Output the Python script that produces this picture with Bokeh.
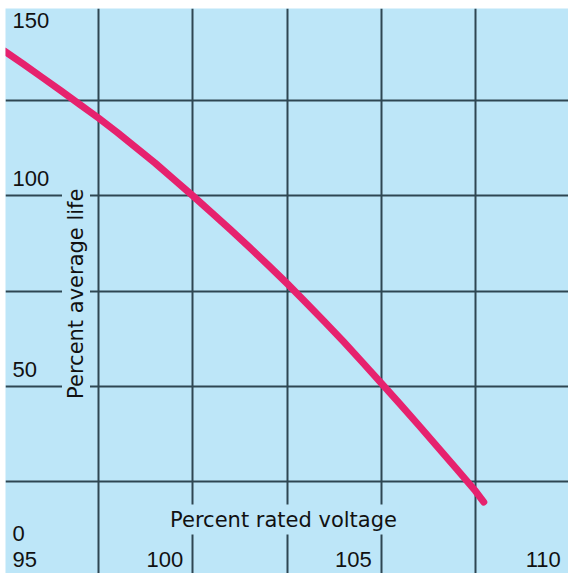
from bokeh.plotting import figure
from bokeh.models import Range1d, FixedTicker, Label
from bokeh.core.properties import value
from bokeh.embed import file_html
from bokeh.resources import INLINE
import math

# ---- data ----
voltage = [95.0, 95.5, 96.0, 96.5, 97.0, 97.5, 98.0, 98.5, 99.0, 99.5, 100.0,
           100.5, 101.0, 101.5, 102.0, 102.5, 103.0, 103.5, 104.0, 104.5, 105.0,
           105.5, 106.0, 106.5, 107.0, 107.5, 107.72]
life = [138.0, 134.6, 131.1, 127.6, 124.0, 120.4, 116.6, 112.6, 108.6, 104.3, 100.0,
        95.6, 91.1, 86.5, 81.8, 77.0, 72.0, 66.9, 61.7, 56.3, 50.8,
        45.3, 39.7, 34.0, 28.3, 22.5, 19.6]

x_ticks = [95, 100, 105, 110]
y_ticks = [0, 50, 100, 150]
x_grid = [97.5, 100, 102.5, 105, 107.5]
y_grid = [25, 50, 75, 100, 125]
x_title = "Percent rated voltage"
y_title = "Percent average life"

# ---- style ----
BG = "#BDE6F8"
GRID = "#2E4652"
CURVE = "#E6226E"
TXT = "#111111"
W, H = 568, 573
BL, BT = 5, 8                      # white scan border, left / top
X0, X1 = 95.033, 109.967
Y0, Y1 = 0.853, 149.147
SX = (W - BL) / (X1 - X0)
SY = (H - BT) / (Y1 - Y0)
NUM_SHIFT = 9    # baseline correction for the svg text (px, upward)
TITLE_SHIFT = 7


def dx(px):
    return px / SX


def dy(px):
    return px / SY


p = figure(width=W, height=H, output_backend="svg", toolbar_location=None,
           x_range=Range1d(X0, X1), y_range=Range1d(Y0, Y1),
           min_border=0, min_border_left=BL, min_border_top=BT)
p.background_fill_color = BG
p.border_fill_color = "white"
p.outline_line_color = None
p.xaxis.visible = False
p.yaxis.visible = False
p.xgrid.ticker = FixedTicker(ticks=x_grid)
p.ygrid.ticker = FixedTicker(ticks=y_grid)
for g in (p.xgrid, p.ygrid):
    g.grid_line_color = GRID
    g.grid_line_width = 2

p.line(voltage, life, line_color=CURVE, line_width=7, line_cap="round", line_join="round")

NUMFONT = value("Liberation Sans")
# y tick labels (left side)
y_lab_dy = {0: 34.5, 50: 7.5, 100: 8.5, 150: -24.25}
p.text(x=[95 + dx(8.25)] * len(y_ticks),
       y=[v + dy(y_lab_dy[v] + NUM_SHIFT) for v in y_ticks],
       text=[str(v) for v in y_ticks], text_font=NUMFONT,
       text_font_size="22px", text_color=TXT, text_align="left", text_baseline="alphabetic")

# x tick labels (bottom)
xb = 150 - dy(563.5 - NUM_SHIFT)
p.text(x=[x_ticks[0] + dx(8.25)], y=[xb], text=[str(x_ticks[0])],
       text_font=NUMFONT, text_font_size="22px", text_color=TXT,
       text_align="left", text_baseline="alphabetic")
x_lab_dx = {100: 9.5, 105: 9.5, 110: 9.0}
p.text(x=[v - dx(x_lab_dx[v]) for v in x_ticks[1:]], y=[xb] * 3,
       text=[str(v) for v in x_ticks[1:]], text_font=NUMFONT,
       text_font_size="22px", text_color=TXT, text_align="right", text_baseline="alphabetic")

# axis titles (with background to break the grid lines)
p.add_layout(Label(x=95 + dx(279.25), y=150 - dy(521.25 - TITLE_SHIFT), text=x_title,
                   text_font="DejaVu Sans", text_font_size="21px", text_color=TXT,
                   text_align="center", text_baseline="alphabetic",
                   background_fill_color=BG, padding=3))
p.add_layout(Label(x=95 + dx(71.75), y=150 - dy(288.5), text=y_title, angle=math.pi / 2,
                   text_font="DejaVu Sans", text_font_size="21px", text_color=TXT,
                   text_align="center", text_baseline="middle",
                   background_fill_color=BG, padding=2))

open("out.html", "w").write(file_html(p, INLINE))
